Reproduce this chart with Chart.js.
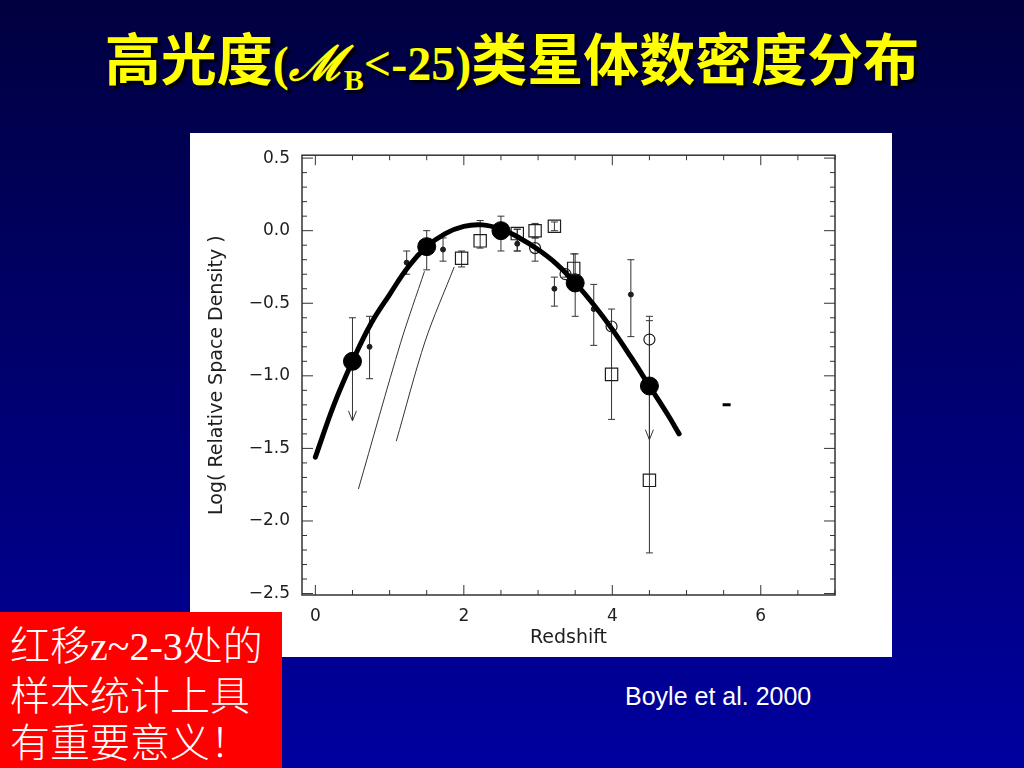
<!DOCTYPE html>
<html lang="zh">
<head>
<meta charset="utf-8">
<title>高光度类星体数密度分布</title>
<script src="https://cdn.jsdelivr.net/npm/chart.js@4.4.1/dist/chart.umd.min.js"></script>
<style>
html, body { margin: 0; padding: 0; }
body {
    width: 1024px; height: 768px; overflow: hidden; position: relative;
    background: linear-gradient(to bottom, #000040 0%, #0000a0 100%);
}
.title {
    position: absolute; left: 0; top: 21px; width: 1024px; text-align: center; line-height: 70px;
    color: #ffff00; font-family: 'Noto Sans CJK SC', sans-serif; font-weight: 700; font-size: 56px;
    text-shadow: 3px 3px 2px #000; white-space: nowrap;
}
.title .lat { font-family: 'Liberation Serif', serif; font-size: 48px; }
.title sub { font-size: 30px; vertical-align: -10px; }
#plot { position: absolute; left: 190px; top: 133px; width: 702px; height: 524px; background: #fff; }
.note {
    position: absolute; left: 0; top: 612px; width: 282px; height: 156px; box-sizing: border-box;
    padding: 8px 0 0 10px; background: #ff0000; color: #fff; white-space: nowrap;
    font-family: 'Noto Sans CJK SC', sans-serif; font-weight: 300; font-size: 40px; line-height: 47px;
}
.note .lat { font-family: 'Liberation Serif', serif; }
.cite { position: absolute; left: 625px; top: 682px; color: #fff; font-family: 'Liberation Sans', Arial, sans-serif; font-size: 25px; }
</style>
</head>
<body>
<div class="title">高光度<span class="lat">(<i>ℳ</i><sub>B</sub>&lt;-25)</span>类星体数密度分布</div>
<div id="plot"><canvas id="chart"></canvas></div>
<div class="note">红移<span class="lat">z~2-3</span>处的<br>样本统计上具<br>有重要意义！</div>
<div class="cite">Boyle et al. 2000</div>
<script>
// model curve
const curveZ   = [0, 0.25, 0.5, 0.75, 1.0, 1.25, 1.5, 1.75, 2.0, 2.25, 2.5, 2.75, 3.0, 3.25, 3.5, 3.75, 4.0, 4.25, 4.5, 4.75, 4.9];
const curveLog = [-1.56, -1.20, -0.90, -0.64, -0.44, -0.25, -0.11, -0.02, 0.03, 0.04, 0.01, -0.05, -0.13, -0.23, -0.36, -0.51, -0.68, -0.87, -1.07, -1.27, -1.40];

// thin lines on the low-z side
const track1Z   = [0.58, 1.15, 1.47];
const track1Log = [-1.78, -0.77, -0.28];
const track2Z   = [1.09, 1.48, 1.87];
const track2Log = [-1.45, -0.76, -0.25];

// big filled circles
const bigZ     = [0.5, 1.5, 2.5, 3.5, 4.5];
const bigLog   = [-0.90, -0.11, 0.0, -0.36, -1.07];
const bigHi    = [-0.60, 0.0, 0.10, -0.16, -0.62];
const bigLo    = [-1.31, -0.27, -0.14, -0.59, -1.44];
const bigArrow = [true, false, false, false, true];

// small filled dots
const dotZ   = [0.73, 1.23, 1.72, 2.72, 3.22, 3.75, 4.25];
const dotLog = [-0.80, -0.22, -0.13, -0.09, -0.40, -0.54, -0.44];
const dotHi  = [-0.59, -0.14, -0.05, 0.01, -0.32, -0.37, -0.20];
const dotLo  = [-1.02, -0.30, -0.21, -0.14, -0.52, -0.79, -0.73];

// open squares
const squareZ   = [1.97, 2.22, 2.72, 2.96, 3.22, 3.48, 3.99, 4.5];
const squareLog = [-0.19, -0.07, -0.02, 0.0, 0.03, -0.26, -0.99, -1.72];
const squareHi  = [-0.14, 0.07, 0.01, 0.05, 0.06, -0.16, -0.54, -0.59];
const squareLo  = [-0.25, -0.12, -0.14, -0.05, 0.0, -0.30, -1.30, -2.22];

// open circles
const ringZ   = [2.96, 3.37, 3.99, 4.5];
const ringLog = [-0.12, -0.30, -0.66, -0.75];
const ringHi  = [-0.05, -0.28, -0.66, -0.75];
const ringLo  = [-0.21, -0.32, -0.66, -0.75];

// stray mark right of the curve
const dashZ   = [5.54];
const dashLog = [-1.20];

const xTickValues = [0, 2, 4, 6];
const yTickValues = [-2.5, -2.0, -1.5, -1.0, -0.5, 0.0, 0.5];

const pts = (xs, ys) => xs.map((x, i) => ({ x, y: ys[i] }));
const ink = '#1e1e1e';

// error bars with caps, arrow for limits
const errorBars = {
    id: 'errorBars',
    beforeDatasetsDraw(chart) {
        const { ctx, scales: { x, y } } = chart;
        ctx.save();
        ctx.strokeStyle = '#333';
        ctx.lineWidth = 1;
        chart.data.datasets.forEach(ds => {
            if (!ds.errLo) return;
            ds.data.forEach((p, i) => {
                const px = x.getPixelForValue(p.x);
                const top = y.getPixelForValue(ds.errHi[i]);
                const bot = y.getPixelForValue(ds.errLo[i]);
                if (bot - top < 1) return;
                ctx.beginPath();
                ctx.moveTo(px, top); ctx.lineTo(px, bot);
                ctx.moveTo(px - 3.5, top); ctx.lineTo(px + 3.5, top);
                if (ds.arrow && ds.arrow[i]) {
                    ctx.moveTo(px - 4, bot - 10); ctx.lineTo(px, bot); ctx.lineTo(px + 4, bot - 10);
                } else {
                    ctx.moveTo(px - 3.5, bot); ctx.lineTo(px + 3.5, bot);
                }
                ctx.stroke();
            });
        });
        ctx.restore();
    }
};

// box frame with inward ticks on all four sides
const frameTicks = {
    id: 'frameTicks',
    beforeDatasetsDraw(chart) {
        const { ctx, chartArea: a, scales: { x, y } } = chart;
        ctx.save();
        ctx.strokeStyle = '#333';
        ctx.lineWidth = 1.5;
        ctx.strokeRect(a.left, a.top, a.right - a.left, a.bottom - a.top);
        ctx.lineWidth = 1;
        ctx.beginPath();
        for (let k = 0; k <= 14; k++) {
            const px = x.getPixelForValue(k / 2);
            const len = k % 4 === 0 ? 10 : 5;
            ctx.moveTo(px, a.bottom); ctx.lineTo(px, a.bottom - len);
            ctx.moveTo(px, a.top); ctx.lineTo(px, a.top + len);
        }
        for (let k = -25; k <= 5; k++) {
            const py = y.getPixelForValue(k / 10);
            const len = k % 5 === 0 ? 11 : 5;
            ctx.moveTo(a.left, py); ctx.lineTo(a.left + len, py);
            ctx.moveTo(a.right, py); ctx.lineTo(a.right - len, py);
        }
        ctx.stroke();
        ctx.restore();
    }
};

const tickFont = { family: 'DejaVu Sans', size: 17 };
const titleFont = { family: 'DejaVu Sans', size: 19 };

new Chart(document.getElementById('chart'), {
    type: 'scatter',
    data: {
        datasets: [
            { data: pts(curveZ, curveLog), showLine: true, tension: 0.4, borderColor: '#000', borderWidth: 5, pointRadius: 0, borderCapStyle: 'round' },
            { data: pts(track1Z, track1Log), showLine: true, tension: 0.3, borderColor: '#333', borderWidth: 1, pointRadius: 0 },
            { data: pts(track2Z, track2Log), showLine: true, tension: 0.3, borderColor: '#333', borderWidth: 1, pointRadius: 0 },
            { data: pts(squareZ, squareLog), errHi: squareHi, errLo: squareLo, pointStyle: 'rect', pointRadius: 8.7,
              backgroundColor: 'transparent', borderColor: ink, borderWidth: 1.2 },
            { data: pts(ringZ, ringLog), errHi: ringHi, errLo: ringLo, pointStyle: 'circle', pointRadius: 5.5,
              backgroundColor: 'transparent', borderColor: ink, borderWidth: 1.2 },
            { data: pts(dotZ, dotLog), errHi: dotHi, errLo: dotLo, pointRadius: 2.5, backgroundColor: ink, borderColor: ink },
            { data: pts(bigZ, bigLog), errHi: bigHi, errLo: bigLo, arrow: bigArrow, pointRadius: 9, backgroundColor: '#000', borderColor: '#000' },
            { data: pts(dashZ, dashLog), pointStyle: 'line', pointRadius: 4, borderColor: '#000', borderWidth: 3 },
        ],
    },
    options: {
        responsive: true,
        maintainAspectRatio: false,
        animation: false,
        events: [],
        layout: { padding: { left: 0, top: 17, right: 57, bottom: 0 } },
        plugins: { legend: { display: false }, tooltip: { enabled: false } },
        scales: {
            x: {
                type: 'linear', min: -0.18, max: 7.0,
                afterBuildTicks: s => { s.ticks = xTickValues.map(value => ({ value })); },
                afterFit: s => { s.height = 62; },
                grid: { display: false, drawTicks: false },
                border: { display: false },
                ticks: { font: tickFont, color: ink, padding: 11, maxRotation: 0 },
                title: { display: true, text: 'Redshift', font: titleFont, color: ink, padding: { top: 0, bottom: 8 } },
            },
            y: {
                type: 'linear', min: -2.51, max: 0.52,
                afterBuildTicks: s => { s.ticks = yTickValues.map(value => ({ value })); },
                afterFit: s => { s.width = 112; },
                grid: { display: false, drawTicks: false },
                border: { display: false },
                ticks: { font: tickFont, color: ink, padding: 12, callback: v => v.toFixed(1).replace('-', '\u2212') },
                title: { display: true, text: 'Log( Relative Space Density )', font: titleFont, color: ink, padding: { top: 16, bottom: 0 } },
            },
        },
    },
    plugins: [frameTicks, errorBars],
});
</script>
</body>
</html>
